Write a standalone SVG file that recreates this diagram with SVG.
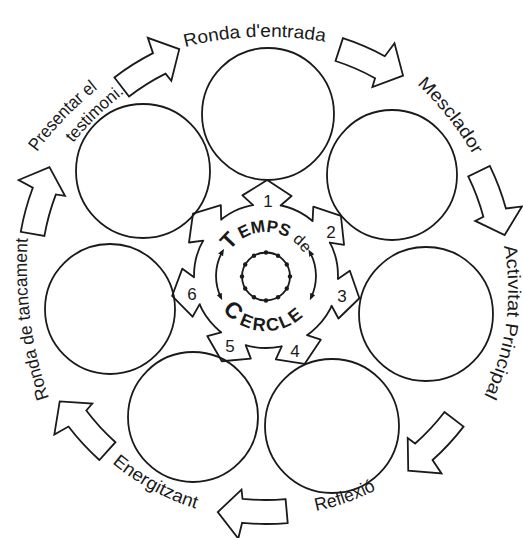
<svg xmlns="http://www.w3.org/2000/svg" width="523" height="538" viewBox="0 0 523 538">
<style>
.ln{fill:none;stroke:#1a1a1a;stroke-width:1.8;stroke-linejoin:round;stroke-linecap:round}
.node{fill:none;stroke:#1a1a1a;stroke-width:1.8}
.arr{fill:#fff;stroke:#1a1a1a;stroke-width:1.8;stroke-linejoin:miter}
.mask{fill:#fff;stroke:none}
.lbl{font-family:"Liberation Sans",Arial,sans-serif;font-size:18px;fill:#1a1a1a}
.num{font-family:"Liberation Sans",Arial,sans-serif;font-size:17px;fill:#1a1a1a;text-anchor:middle}
.ct{font-family:"Liberation Sans",Arial,sans-serif;font-weight:bold;fill:#1a1a1a}
.dot{fill:#1a1a1a}
</style>
<defs>
<path id="bigArrow" class="arr" d="M249,0 A249,249 0 0 1 244.8,45.4 L260.1,50.6 L232,68.7 L211.7,43.1 L220.9,42.9 A225,225 0 0 0 225,0 Z"/>
<g id="head">
<polygon class="mask" points="62,-14 70.68,-13.74 80.33,-24.56 96,0 80.33,24.56 70.68,13.74 62,14"/>
<polyline class="ln" points="70.68,-13.74 80.33,-24.56 96,0 80.33,24.56 70.68,13.74"/>
</g>
<marker id="ah" viewBox="0 0 10 10" refX="5" refY="5" markerUnits="userSpaceOnUse" markerWidth="7" markerHeight="7" orient="auto-start-reverse">
<path d="M0,1 L10,5 L0,9 z" fill="#1a1a1a"/>
</marker>
<path id="p-entrada" d="M185,47 A330,330 0 0 1 326,42"/>
<path id="p-mesc" d="M417,84 A330,330 0 0 1 474,156"/>
<path id="p-act" d="M504,246 A240,240 0 0 1 482,400"/>
<path id="p-refl" d="M316,511 A240,240 0 0 0 378,489"/>
<path id="p-ener" d="M112,463 A240,240 0 0 0 197,509"/>
<path id="p-tanc" d="M49,398 A400,400 0 0 1 28,236"/>
<path id="p-pres1" d="M37,152 A330,330 0 0 1 100,87"/>
<path id="p-pres2" d="M73,143 A330,330 0 0 1 127,91"/>
<path id="p-top" d="M230,250.8 A44,44 0 0 1 305.9,257.4"/>
<path id="p-bot" d="M222.7,309.9 A55,55 0 0 0 310.5,308.3"/>
</defs>
<rect width="523" height="538" fill="#fff"/>

<g id="connectors">
<use href="#bigArrow" transform="translate(266,275) rotate(-127.5)"/>
<use href="#bigArrow" transform="translate(266,275) rotate(-72)"/>
<use href="#bigArrow" transform="translate(266,275) rotate(-26)"/>
<use href="#bigArrow" transform="translate(266,275) rotate(37.5)"/>
<use href="#bigArrow" transform="translate(266,275) rotate(85)"/>
<use href="#bigArrow" transform="translate(266,275) rotate(132)"/>
<use href="#bigArrow" transform="translate(266,275) rotate(190)"/>
</g>

<g id="temps-de-cercle">
<circle class="ln" cx="266" cy="276" r="72"/>
<use href="#head" transform="translate(266,276) rotate(-139.5)"/>
<use href="#head" transform="translate(266,276) rotate(-89.3)"/>
<use href="#head" transform="translate(266,276) rotate(-38.7)"/>
<use href="#head" transform="translate(266,276) rotate(13.4)"/>
<use href="#head" transform="translate(266,276) rotate(66.3)"/>
<use href="#head" transform="translate(266,276) rotate(117.4)"/>
<use href="#head" transform="translate(266,276) rotate(168)"/>
<text class="num" x="268" y="207">1</text>
<text class="num" x="331" y="238">2</text>
<text class="num" x="342" y="302">3</text>
<text class="num" x="295" y="357">4</text>
<text class="num" x="230" y="352">5</text>
<text class="num" x="192" y="300">6</text>
<text class="ct"><textPath href="#p-top"><tspan font-size="22">T</tspan><tspan font-size="17" dx="3">EMPS</tspan><tspan font-size="16" font-weight="normal" dx="5">de</tspan></textPath></text>
<text class="ct" letter-spacing="2"><textPath href="#p-bot"><tspan font-size="23">C</tspan><tspan font-size="18" dx="3">ERCLE</tspan></textPath></text>
<path class="ln" d="M222.3,251.8 A50,50 0 0 0 220.7,297.1" stroke-width="1.6" marker-start="url(#ah)" marker-end="url(#ah)"/>
<path class="ln" d="M310.1,252.5 A50,50 0 0 1 311.3,297.1" stroke-width="1.6" marker-start="url(#ah)" marker-end="url(#ah)"/>
<circle class="ln" cx="266" cy="276.5" r="24" stroke-width="1.5"/>
<g class="dot">
<circle cx="266" cy="252.5" r="2.2"/><circle cx="278" cy="255.7" r="2.2"/><circle cx="286.8" cy="264.5" r="2.2"/>
<circle cx="290" cy="276.5" r="2.2"/><circle cx="286.8" cy="288.5" r="2.2"/><circle cx="278" cy="297.3" r="2.2"/>
<circle cx="266" cy="300.5" r="2.2"/><circle cx="254" cy="297.3" r="2.2"/><circle cx="245.2" cy="288.5" r="2.2"/>
<circle cx="242" cy="276.5" r="2.2"/><circle cx="245.2" cy="264.5" r="2.2"/><circle cx="254" cy="255.7" r="2.2"/>
</g>
</g>

<g id="ronda-entrada">
<circle class="node" cx="268" cy="114" r="66"/>
<text class="lbl"><textPath href="#p-entrada" textLength="141" lengthAdjust="spacingAndGlyphs">Ronda d'entrada</textPath></text>
</g>
<g id="mesclador">
<circle class="node" cx="392" cy="175" r="65"/>
<text class="lbl"><textPath href="#p-mesc" textLength="91" lengthAdjust="spacingAndGlyphs">Mesclador</textPath></text>
</g>
<g id="activitat-principal">
<circle class="node" cx="426" cy="314" r="67"/>
<text class="lbl"><textPath href="#p-act" textLength="154" lengthAdjust="spacingAndGlyphs">Activitat Principal</textPath></text>
</g>
<g id="reflexio">
<circle class="node" cx="332" cy="426" r="67"/>
<text class="lbl"><textPath href="#p-refl" textLength="64" lengthAdjust="spacingAndGlyphs">Reflexió</textPath></text>
</g>
<g id="energitzant">
<circle class="node" cx="193" cy="417" r="65"/>
<text class="lbl"><textPath href="#p-ener" textLength="96" lengthAdjust="spacingAndGlyphs">Energitzant</textPath></text>
</g>
<g id="ronda-tancament">
<circle class="node" cx="110" cy="309" r="65"/>
<text class="lbl"><textPath href="#p-tanc" textLength="162" lengthAdjust="spacingAndGlyphs">Ronda de tancament</textPath></text>
</g>
<g id="presentar-testimoni">
<circle class="node" cx="143" cy="171" r="67"/>
<text class="lbl"><textPath href="#p-pres1" textLength="88" lengthAdjust="spacingAndGlyphs">Presentar el</textPath></text>
<text class="lbl" style="font-size:17px"><textPath href="#p-pres2" textLength="72" lengthAdjust="spacingAndGlyphs">testimoni.</textPath></text>
</g>
</svg>
